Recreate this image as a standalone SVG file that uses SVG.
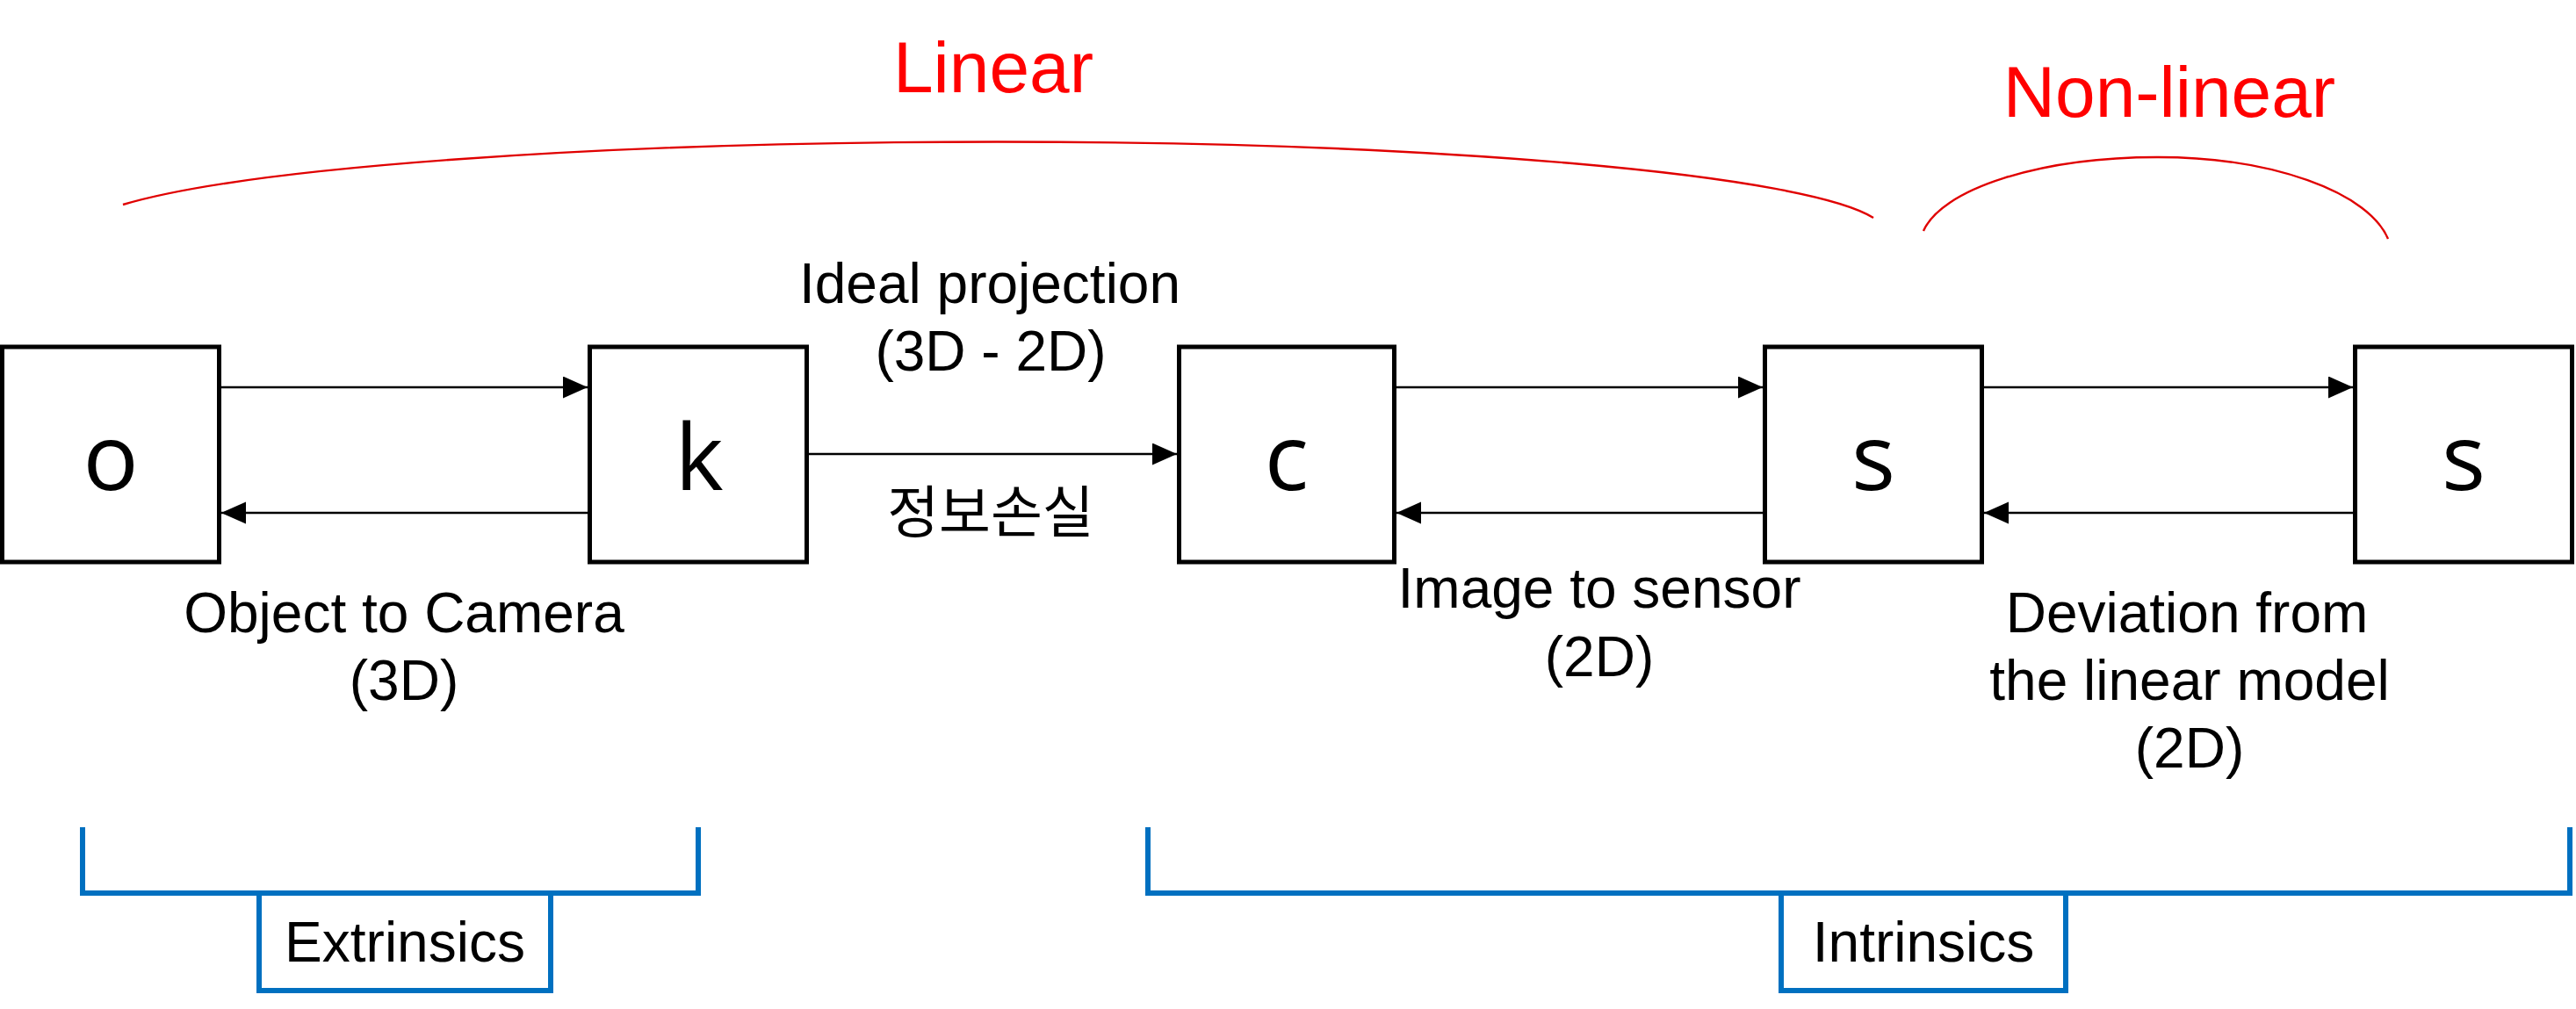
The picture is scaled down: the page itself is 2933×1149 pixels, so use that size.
<svg xmlns="http://www.w3.org/2000/svg" width="2933" height="1149" viewBox="0 0 2933 1149">
  <style>
    .box { fill: #ffffff; stroke: #000000; stroke-width: 5; }
    .sym { font-family: "Open Sans", "Noto Sans", sans-serif; font-size: 105px; fill: #000; text-anchor: middle; }
    .lbl { font-family: "Liberation Sans", Arial, "Noto Sans CJK KR", sans-serif; font-size: 64px; fill: #000; text-anchor: middle; }
    .kr { font-family: "Liberation Sans", "Noto Sans CJK KR", sans-serif; font-size: 64px; fill: #000; text-anchor: middle; }
    .red { font-family: "Liberation Sans", Arial, sans-serif; font-size: 82px; fill: #ff0000; text-anchor: middle; }
    .arc { fill: none; stroke: #e00000; stroke-width: 2.4; }
    .conn { fill: none; stroke: #000; stroke-width: 2.5; marker-end: url(#ah); }
    .brk { fill: none; stroke: #0070c0; stroke-width: 6; }
  </style>
  <defs>
    <marker id="ah" markerUnits="userSpaceOnUse" markerWidth="28" markerHeight="26" refX="28" refY="12.5" orient="auto">
      <path d="M0,0 L28,12.5 L0,25 Z" fill="#000"/>
    </marker>
  </defs>
  <rect width="2933" height="1149" fill="#ffffff"/>

  <g id="range-labels">
    <path class="arc" d="M140,233 A1050,105 0 0 1 1135,161.5 A1010,103 0 0 1 2133,248"/>
    <text class="red" x="1131" y="105">Linear</text>
    <path class="arc" d="M2190,263 A270,100 0 0 1 2456,179 A266,113 0 0 1 2719,272"/>
    <text class="red" x="2470" y="133">Non-linear</text>
  </g>

  <g id="connectors">
    <line class="conn" x1="252" y1="441" x2="669" y2="441"/>
    <line class="conn" x1="669" y1="584" x2="252" y2="584"/>
    <line class="conn" x1="921" y1="517" x2="1340" y2="517"/>
    <line class="conn" x1="1590" y1="441" x2="2007" y2="441"/>
    <line class="conn" x1="2007" y1="584" x2="1590" y2="584"/>
    <line class="conn" x1="2259" y1="441" x2="2679" y2="441"/>
    <line class="conn" x1="2679" y1="584" x2="2259" y2="584"/>
  </g>

  <g id="node-o">
    <rect class="box" x="2.5" y="395" width="247" height="245"/>
    <text class="sym" x="126" y="558">o</text>
  </g>
  <g id="node-k">
    <rect class="box" x="671.5" y="395" width="247" height="245"/>
    <text class="sym" x="796" y="558">k</text>
  </g>
  <g id="node-c">
    <rect class="box" x="1342.5" y="395" width="245" height="245"/>
    <text class="sym" x="1465" y="558">c</text>
  </g>
  <g id="node-s1">
    <rect class="box" x="2009.5" y="395" width="247" height="245"/>
    <text class="sym" x="2133" y="558">s</text>
  </g>
  <g id="node-s2">
    <rect class="box" x="2681.5" y="395" width="247" height="245"/>
    <text class="sym" x="2805" y="558">s</text>
  </g>

  <g id="edge-labels">
    <text class="lbl" x="460" y="720">Object to Camera</text>
    <text class="lbl" x="460" y="797">(3D)</text>
    <text class="lbl" x="1127" y="345">Ideal projection</text>
    <text class="lbl" x="1128" y="422">(3D - 2D)</text>
    <text class="kr" x="1128" y="606">정보손실</text>
    <text class="lbl" x="1821" y="692">Image to sensor</text>
    <text class="lbl" x="1821" y="770">(2D)</text>
    <text class="lbl" x="2490" y="720">Deviation from</text>
    <text class="lbl" x="2493" y="797">the linear model</text>
    <text class="lbl" x="2493" y="874">(2D)</text>
  </g>

  <g id="extrinsics">
    <path class="brk" d="M94,942 V1017 H795 V942"/>
    <path class="brk" d="M295,1017 V1128 H627 V1017"/>
    <text class="lbl" x="461" y="1095">Extrinsics</text>
  </g>
  <g id="intrinsics">
    <path class="brk" d="M1307,942 V1017 H2926 V942"/>
    <path class="brk" d="M2028,1017 V1128 H2352 V1017"/>
    <text class="lbl" x="2190" y="1095">Intrinsics</text>
  </g>
</svg>
